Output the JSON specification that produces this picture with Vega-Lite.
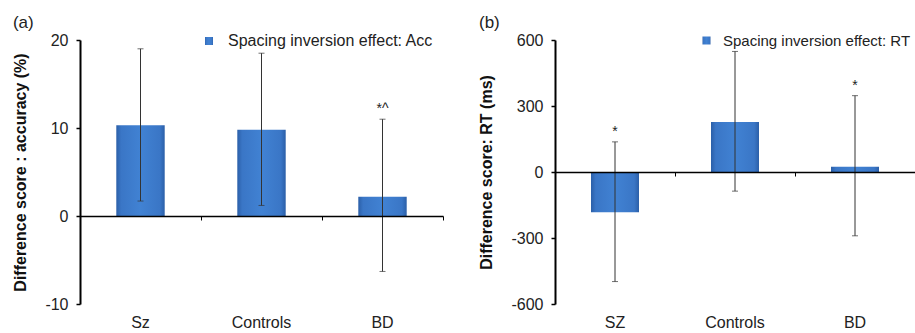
{
  "$schema": "https://vega.github.io/schema/vega-lite/v6.json",
  "padding": {"left": 12, "top": 13, "right": 0, "bottom": 0},
  "spacing": 34,
  "resolve": {"scale": {"opacity": "independent"}, "legend": {"opacity": "independent"}},
  "config": {
    "font": "Liberation Sans",
    "view": {"stroke": null},
    "axis": {"grid": false, "labelFont": "Liberation Sans", "titleFont": "Liberation Sans"},
    "legend": {"labelFont": "Liberation Sans"}
  },
  "hconcat": [
    {
      "title": {"text": "(a)", "anchor": "start", "frame": "bounds", "fontSize": 17, "fontWeight": "normal", "color": "#222", "offset": 0},
      "width": 363,
      "height": 264,
      "data": {"values": [
        {"group": "Sz", "value": 10.3, "lo": 1.7, "hi": 19.0, "note": ""},
        {"group": "Controls", "value": 9.8, "lo": 1.2, "hi": 18.5, "note": ""},
        {"group": "BD", "value": 2.2, "lo": -6.3, "hi": 11.0, "note": "*^"}
      ]},
      "layer": [
        {
          "mark": {"type": "bar", "width": {"band": 0.4},
            "color": {"gradient": "linear", "x1": 0, "x2": 1, "y1": 0, "y2": 0,
              "stops": [{"offset": 0, "color": "#2b5fa8"}, {"offset": 0.1, "color": "#3a76c6"}, {"offset": 0.5, "color": "#4182d3"}, {"offset": 0.9, "color": "#3a76c6"}, {"offset": 1, "color": "#2b5fa8"}]}},
          "encoding": {
            "x": {"field": "group", "type": "nominal", "sort": null,
              "scale": {"paddingInner": 0, "paddingOuter": 0},
              "axis": {"orient": "bottom", "title": null, "domain": false, "ticks": false, "labelAngle": 0, "labelFontSize": 16, "labelColor": "#222", "labelPadding": 10}},
            "y": {"field": "value", "type": "quantitative", "title": "Difference score : accuracy (%)",
              "scale": {"domain": [-10, 20], "nice": false, "zero": false},
              "axis": {"values": [-10, 0, 10, 20],
                "labelExpr": "datum.value < 0 ? '-' + abs(datum.value) : datum.label",
                "domainColor": "#000", "domainWidth": 2, "tickColor": "#000", "tickSize": 4, "tickWidth": 1.5,
                "labelFontSize": 16, "labelPadding": 8, "labelColor": "#222",
                "titleFontSize": 16, "titleFontWeight": "bold", "titleColor": "#111", "titlePadding": 16, "zindex": 1}},
            "opacity": {"datum": "Spacing inversion effect: Acc", "type": "nominal", "scale": {"range": [1]},
              "legend": {"title": null, "orient": "none", "legendX": 121, "legendY": -7, "padding": 0,
                "symbolType": "square", "symbolSize": 64, "labelFontSize": 16, "labelColor": "#222", "labelOffset": 11, "labelLimit": 400,
                "encode": {"symbols": {"update": {"fill": {"value": "#3a78c8"}, "stroke": {"value": "#2b5fa8"}, "strokeWidth": {"value": 0.5}, "opacity": {"value": 1}}}}}}
          }
        },
        {
          "mark": {"type": "errorbar", "color": "#333", "ticks": {"size": 6}, "thickness": 1},
          "encoding": {
            "x": {"field": "group", "type": "nominal", "sort": null, "axis": null},
            "y": {"field": "lo", "type": "quantitative", "title": "Difference score : accuracy (%)"},
            "y2": {"field": "hi"}
          }
        },
        {
          "mark": {"type": "text", "dy": -10, "fontSize": 14, "color": "#222"},
          "encoding": {
            "x": {"field": "group", "type": "nominal", "sort": null,
              "axis": {"orient": "bottom", "offset": -88, "title": null, "labels": false, "domain": true, "domainColor": "#000", "domainWidth": 1.5,
                "ticks": true, "tickColor": "#000", "tickSize": 4, "tickWidth": 1, "tickBand": "extent", "zindex": 1}},
            "y": {"field": "hi", "type": "quantitative", "title": "Difference score : accuracy (%)"},
            "text": {"field": "note"}
          }
        }
      ],
      "resolve": {"axis": {"x": "independent"}}
    },
    {
      "title": {"text": "(b)", "anchor": "start", "frame": "bounds", "fontSize": 17, "fontWeight": "normal", "color": "#222", "offset": 0},
      "width": 360,
      "height": 264,
      "data": {"values": [
        {"group": "SZ", "value": -183, "lo": -498, "hi": 137, "note": "*"},
        {"group": "Controls", "value": 227, "lo": -87, "hi": 548, "note": ""},
        {"group": "BD", "value": 24, "lo": -290, "hi": 347, "note": "*"}
      ]},
      "layer": [
        {
          "mark": {"type": "bar", "width": {"band": 0.4},
            "color": {"gradient": "linear", "x1": 0, "x2": 1, "y1": 0, "y2": 0,
              "stops": [{"offset": 0, "color": "#2b5fa8"}, {"offset": 0.1, "color": "#3a76c6"}, {"offset": 0.5, "color": "#4182d3"}, {"offset": 0.9, "color": "#3a76c6"}, {"offset": 1, "color": "#2b5fa8"}]}},
          "encoding": {
            "x": {"field": "group", "type": "nominal", "sort": null,
              "scale": {"paddingInner": 0, "paddingOuter": 0},
              "axis": {"orient": "bottom", "title": null, "domain": false, "ticks": false, "labelAngle": 0, "labelFontSize": 16, "labelColor": "#222", "labelPadding": 10}},
            "y": {"field": "value", "type": "quantitative", "title": "Difference score: RT (ms)",
              "scale": {"domain": [-600, 600], "nice": false, "zero": false},
              "axis": {"values": [-600, -300, 0, 300, 600],
                "labelExpr": "datum.value < 0 ? '-' + abs(datum.value) : datum.label",
                "domainColor": "#000", "domainWidth": 2, "tickColor": "#000", "tickSize": 4, "tickWidth": 1.5,
                "labelFontSize": 16, "labelPadding": 8, "labelColor": "#222",
                "titleFontSize": 16, "titleFontWeight": "bold", "titleColor": "#111", "titlePadding": 16, "zindex": 1}},
            "opacity": {"datum": "Spacing inversion effect: RT", "type": "nominal", "scale": {"range": [1]},
              "legend": {"title": null, "orient": "none", "legendX": 144, "legendY": -7, "padding": 0,
                "symbolType": "square", "symbolSize": 64, "labelFontSize": 15, "labelColor": "#222", "labelOffset": 9, "labelLimit": 400,
                "encode": {"symbols": {"update": {"fill": {"value": "#3a78c8"}, "stroke": {"value": "#2b5fa8"}, "strokeWidth": {"value": 0.5}, "opacity": {"value": 1}}}}}}
          }
        },
        {
          "mark": {"type": "errorbar", "color": "#333", "ticks": {"size": 6}, "thickness": 1},
          "encoding": {
            "x": {"field": "group", "type": "nominal", "sort": null, "axis": null},
            "y": {"field": "lo", "type": "quantitative", "title": "Difference score: RT (ms)"},
            "y2": {"field": "hi"}
          }
        },
        {
          "mark": {"type": "text", "dy": -10, "fontSize": 14, "color": "#222"},
          "encoding": {
            "x": {"field": "group", "type": "nominal", "sort": null,
              "axis": {"orient": "bottom", "offset": -132, "title": null, "labels": false, "domain": true, "domainColor": "#000", "domainWidth": 1.5,
                "ticks": true, "tickColor": "#000", "tickSize": 4, "tickWidth": 1, "tickBand": "extent", "zindex": 1}},
            "y": {"field": "hi", "type": "quantitative", "title": "Difference score: RT (ms)"},
            "text": {"field": "note"}
          }
        }
      ],
      "resolve": {"axis": {"x": "independent"}}
    }
  ]
}
